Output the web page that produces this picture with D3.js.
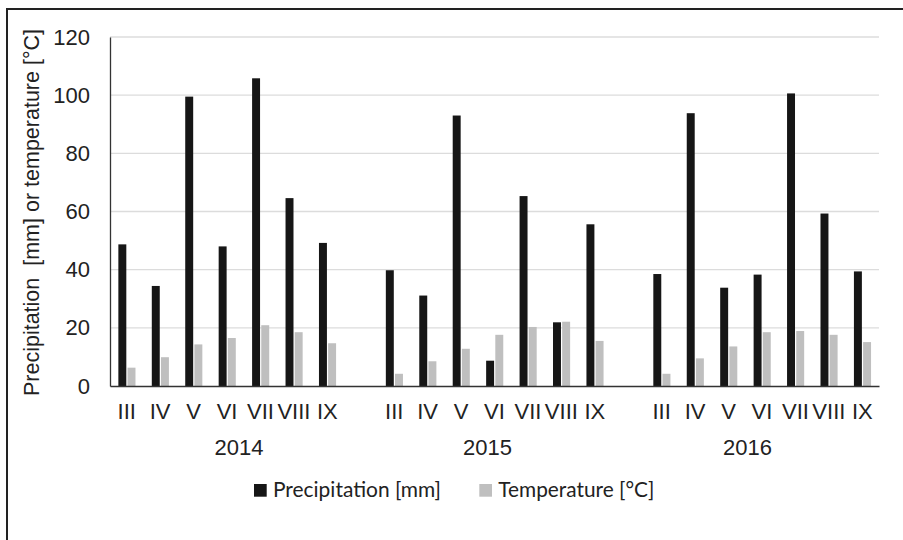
<!DOCTYPE html>
<html>
<head>
<meta charset="utf-8">
<script src="https://cdn.jsdelivr.net/npm/d3@7"></script>
<style>
  html, body { margin: 0; padding: 0; background: #fff; }
  svg { display: block; }
</style>
</head>
<body>
<svg id="chart" width="903" height="540"></svg>
<script>
// ---- data ----
const years = ["2014", "2015", "2016"];
const months = ["III", "IV", "V", "VI", "VII", "VIII", "IX"];
const precipitation2014 = [48.7, 34.4, 99.5, 48.0, 105.8, 64.6, 49.2];
const precipitation2015 = [39.8, 31.1, 93.0, 8.7, 65.3, 21.9, 55.6];
const precipitation2016 = [38.5, 93.8, 33.8, 38.3, 100.6, 59.3, 39.4];
const temperature2014 = [6.3, 9.9, 14.3, 16.5, 20.9, 18.5, 14.7];
const temperature2015 = [4.2, 8.5, 12.8, 17.6, 20.3, 22.1, 15.5];
const temperature2016 = [4.2, 9.5, 13.6, 18.5, 18.9, 17.6, 15.1];
const yTicks = [0, 20, 40, 60, 80, 100, 120];
const seriesNames = ["Precipitation [mm]", "Temperature [°C]"];

// ---- layout ----
const plot = { left: 110, right: 879, top: 37, bottom: 386 };
const colors = { precip: "#161616", temp: "#bfbfbf" };
const yearLabelDx = [12, -7, -14.5];
const axisFont = "'Liberation Sans', Arial, sans-serif";

const precipByYear = [precipitation2014, precipitation2015, precipitation2016];
const tempByYear = [temperature2014, temperature2015, temperature2016];

// build slots (with blank separators between years)
const slots = [];
years.forEach((yr, yi) => {
  months.forEach((m, mi) => {
    slots.push({ key: yr + "-" + m, year: yr, yi, month: m,
                 precip: precipByYear[yi][mi], temp: tempByYear[yi][mi], blank: false });
  });
  if (yi < years.length - 1) slots.push({ key: "gap-" + yr, blank: true });
});
const dataSlots = slots.filter(s => !s.blank);

const svg = d3.select("#chart");

const x = d3.scaleBand().domain(slots.map(s => s.key)).range([plot.left, plot.right]).padding(0);
const y = d3.scaleLinear().domain([0, 120]).range([plot.bottom, plot.top]);
const step = x.bandwidth();
const barW = step * 0.25;

// outer frame (cropped: left and top visible)
svg.append("line").attr("x1", 7).attr("x2", 7).attr("y1", 9).attr("y2", 540)
  .attr("stroke", "#222").attr("stroke-width", 2);
svg.append("line").attr("x1", 6).attr("x2", 903).attr("y1", 9).attr("y2", 9)
  .attr("stroke", "#222").attr("stroke-width", 2);

// gridlines
svg.append("g").selectAll("line").data(yTicks.filter(t => t > 0)).join("line")
  .attr("x1", plot.left).attr("x2", plot.right)
  .attr("y1", d => y(d)).attr("y2", d => y(d))
  .attr("stroke", "#dcdcdc").attr("stroke-width", 1.3);

// bars
svg.append("g").selectAll("rect").data(dataSlots).join("rect")
  .attr("x", d => x(d.key) + barW)
  .attr("width", barW - 0.4)
  .attr("y", d => y(d.precip))
  .attr("height", d => y(0) - y(d.precip))
  .attr("fill", colors.precip);

svg.append("g").selectAll("rect").data(dataSlots).join("rect")
  .attr("x", d => x(d.key) + 2 * barW + 0.8)
  .attr("width", barW - 0.4)
  .attr("y", d => y(d.temp))
  .attr("height", d => y(0) - y(d.temp))
  .attr("fill", colors.temp);

// y axis
const yAxis = svg.append("g").attr("transform", `translate(${plot.left},0)`)
  .call(d3.axisLeft(y).tickValues(yTicks).tickSize(0).tickPadding(20).tickFormat(d3.format("d")));
yAxis.select(".domain").attr("stroke", "#333").attr("stroke-width", 1.3);
yAxis.selectAll("text").attr("font-family", axisFont)
  .attr("font-size", 22).attr("fill", "#222");

// x axis (months)
const xAxis = svg.append("g").attr("transform", `translate(0,${plot.bottom})`)
  .call(d3.axisBottom(x).tickValues(dataSlots.map(s => s.key)).tickSize(0).tickPadding(17)
    .tickFormat(k => slots.find(s => s.key === k).month));
xAxis.select(".domain").attr("stroke", "#333").attr("stroke-width", 1.3);
xAxis.selectAll("text").attr("font-family", axisFont)
  .attr("font-size", 22).attr("fill", "#222");

// year labels
svg.append("g").selectAll("text").data(years).join("text")
  .attr("x", (yr, i) => {
    const keys = dataSlots.filter(s => s.year === yr).map(s => s.key);
    return d3.mean(keys, k => x(k) + step / 2) + yearLabelDx[i];
  })
  .attr("y", 455)
  .attr("text-anchor", "middle")
  .attr("font-family", axisFont)
  .attr("font-size", 22).attr("fill", "#222")
  .text(d => d);

// y title
svg.append("text")
  .attr("transform", `translate(38.5,${(plot.top + plot.bottom) / 2 + 1}) rotate(-90)`)
  .attr("text-anchor", "middle")
  .attr("font-family", axisFont)
  .attr("font-size", 21.5).attr("fill", "#222")
  .attr("xml:space", "preserve")
  .text("Precipitation  [mm] or temperature [°C]");

// legend
const legendItems = [
  { name: seriesNames[0], color: colors.precip, x: 254, w: 168 },
  { name: seriesNames[1], color: colors.temp, x: 479.3, w: 156 }
];
const lg = svg.append("g").selectAll("g").data(legendItems).join("g")
  .attr("transform", d => `translate(${d.x},484)`);
lg.append("rect").attr("width", 12.7).attr("height", 12.7).attr("fill", d => d.color);
lg.append("text").attr("x", 19).attr("y", 12.9)
  .attr("font-family", "Lato, 'Open Sans', sans-serif")
  .attr("font-size", 20.5).attr("fill", "#222")
  .attr("textLength", d => d.w).attr("lengthAdjust", "spacingAndGlyphs")
  .text(d => d.name);
</script>
</body>
</html>
